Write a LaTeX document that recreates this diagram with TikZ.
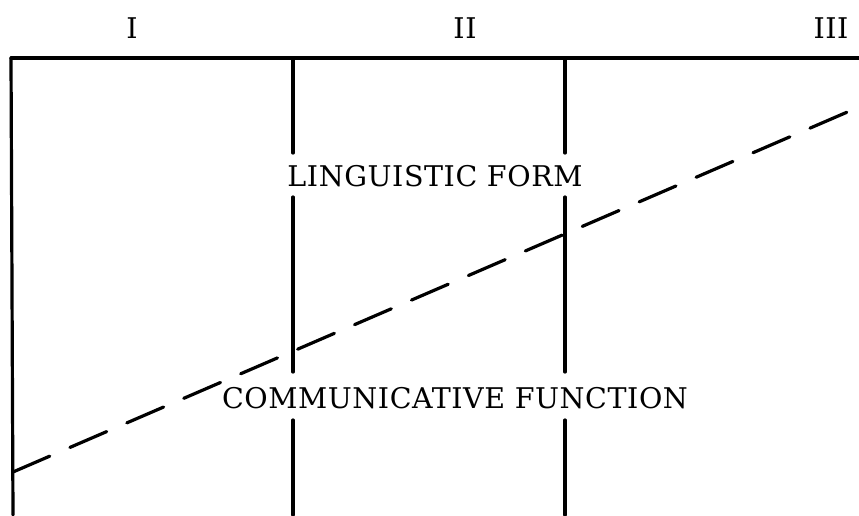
\documentclass[tikz,border=0pt]{standalone}
\usepackage{fontspec}
\newfontfamily\lblfont[LetterSpace=2]{DejaVu Serif}
\begin{document}
\begin{tikzpicture}[x=1pt,y=-1pt,
  rule/.style={line width=3.2pt,line cap=round},
  dashrule/.style={line width=3.2pt,line cap=round,dash pattern=on 40pt off 22pt},
  lbl/.style={font=\lblfont\fontsize{28.5}{34}\selectfont,inner sep=0pt,anchor=base}]
\useasboundingbox (0,0) rectangle (859,515);
% labels
\node[lbl] (n1) at (132,38) {I};
\node[lbl] (n2) at (465,38) {II};
\node[lbl] (n3) at (831,38) {III};
\node[lbl] (form) at (435,186) {LINGUISTIC FORM};
\node[lbl] (func) at (455,408) {COMMUNICATIVE FUNCTION};
% frame
\coordinate (tl) at (11,58);
\coordinate (tr) at (859,58);
\coordinate (bl) at (13,515);
\draw[rule] (tl) -- (tr);
\draw[rule] (tl) -- (bl);
% vertical dividers, broken around the texts
\foreach \x in {293,565}{
  \draw[rule] (\x,58) -- (\x,153);
  \draw[rule] (\x,197) -- (\x,372);
  \draw[rule] (\x,420) -- (\x,515);
}
% dashed boundary
\coordinate (ds) at (13,472);
\coordinate (de) at (859,107);
\draw[dashrule] (ds) -- (de);
\end{tikzpicture}
\end{document}
